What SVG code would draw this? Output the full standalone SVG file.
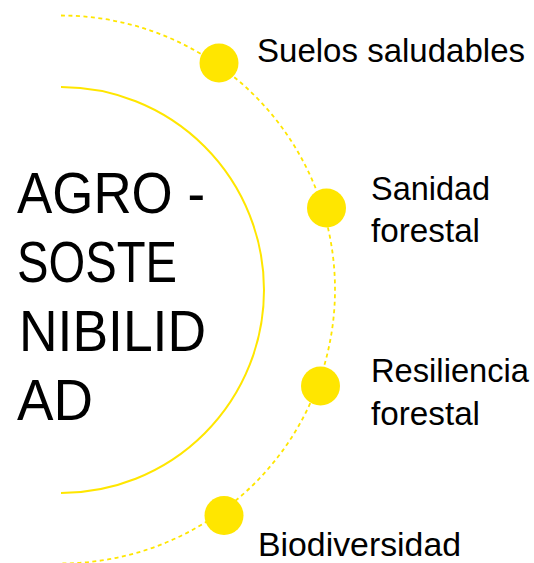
<svg xmlns="http://www.w3.org/2000/svg" width="534" height="563" viewBox="0 0 534 563">
  <style>
    .arc { fill: none; stroke: #FFE600; }
    .solid { stroke-width: 2; }
    .dotted { stroke-width: 1.8; stroke-dasharray: 4 3.5; }
    .dot { fill: #FFE600; }
    .lbl { font-family: "Liberation Sans", Arial, sans-serif; font-size: 34px; fill: #000; }
    .title { font-family: "Liberation Sans", Arial, sans-serif; font-size: 57px; fill: #000; }
  </style>
  <rect width="534" height="563" fill="#fff"/>
  <g id="connectors">
    <path class="arc solid" d="M61,87 A203,203 0 0 1 61,493"/>
    <path class="arc dotted" d="M61,15.5 A274,274 0 0 1 61,563.5"/>
  </g>
  <g id="center">
    <text class="title" x="17" y="213" textLength="188" lengthAdjust="spacingAndGlyphs">AGRO -</text>
    <text class="title" x="17" y="282" textLength="160" lengthAdjust="spacingAndGlyphs">SOSTE</text>
    <text class="title" x="19" y="351" textLength="187" lengthAdjust="spacingAndGlyphs">NIBILID</text>
    <text class="title" x="17" y="420" textLength="76" lengthAdjust="spacingAndGlyphs">AD</text>
  </g>
  <g id="node1">
    <circle class="dot" cx="219" cy="63" r="19.5"/>
    <text class="lbl" x="257" y="62" textLength="268" lengthAdjust="spacingAndGlyphs">Suelos saludables</text>
  </g>
  <g id="node2">
    <circle class="dot" cx="326.5" cy="208" r="19.5"/>
    <text class="lbl" x="371" y="200" textLength="119" lengthAdjust="spacingAndGlyphs">Sanidad</text>
    <text class="lbl" x="371" y="242" textLength="109" lengthAdjust="spacingAndGlyphs">forestal</text>
  </g>
  <g id="node3">
    <circle class="dot" cx="320.5" cy="386" r="19.5"/>
    <text class="lbl" x="371" y="382" textLength="158" lengthAdjust="spacingAndGlyphs">Resiliencia</text>
    <text class="lbl" x="371" y="425" textLength="109" lengthAdjust="spacingAndGlyphs">forestal</text>
  </g>
  <g id="node4">
    <circle class="dot" cx="224" cy="515.5" r="19.5"/>
    <text class="lbl" x="258" y="556" textLength="203" lengthAdjust="spacingAndGlyphs">Biodiversidad</text>
  </g>
</svg>
